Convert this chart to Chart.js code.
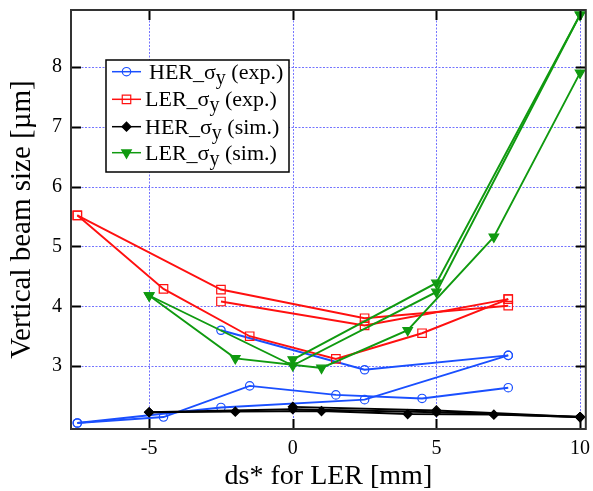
<!DOCTYPE html>
<html>
<head>
<meta charset="utf-8">
<script src="https://cdn.jsdelivr.net/npm/chart.js@4.4.1/dist/chart.umd.min.js"></script>
<style>
  html, body { margin: 0; padding: 0; background: #fff; }
  #wrap { width: 593px; height: 491px; position: relative; }
</style>
</head>
<body>
<div id="wrap"><canvas id="beamChart"></canvas></div>
<script>
// HER sigma_y measured (three scans)
const herExpX1 = [-7.5, -4.5, -1.5, 1.5, 4.5, 7.5];
const herExpY1 = [2.05, 2.15, 2.67, 2.52, 2.46, 2.64];
const herExpX2 = [-2.5, 2.5, 7.5];
const herExpY2 = [3.60, 2.94, 3.18];
const herExpX3 = [-7.5, -2.5, 2.5, 7.5];
const herExpY3 = [2.05, 2.31, 2.44, 3.18];

// LER sigma_y measured
const lerExpX1 = [-7.5, -4.5, -1.5, 1.5, 4.5, 7.5];
const lerExpY1 = [5.52, 4.29, 3.50, 3.12, 3.55, 4.12];
const lerExpX2 = [-7.5, -2.5, 2.5, 7.5];
const lerExpY2 = [5.52, 4.28, 3.80, 4.01];
const lerExpX3 = [-2.5, 2.5, 7.5];
const lerExpY3 = [4.08, 3.68, 4.12];

// HER sigma_y simulation
const herSimX1 = [-5, -2, 1, 4, 7, 10];
const herSimY1 = [2.23, 2.24, 2.25, 2.20, 2.19, 2.15];
const herSimX2 = [-5, 0, 5, 10];
const herSimY2 = [2.23, 2.28, 2.23, 2.15];
const herSimX3 = [0, 5, 10];
const herSimY3 = [2.32, 2.26, 2.15];

// LER sigma_y simulation
const lerSimX1 = [-5, -2, 1, 4, 7, 10];
const lerSimY1 = [4.18, 3.13, 2.97, 3.60, 5.16, 7.90];
const lerSimX2 = [-5, 0, 5, 10];
const lerSimY2 = [4.18, 3.01, 4.24, 8.87];
const lerSimX3 = [0, 5, 10];
const lerSimY3 = [3.11, 4.39, 8.87];

const xTicks = [-5, 0, 5, 10];
const yTicks = [3, 4, 5, 6, 7, 8];

const legendNames = ['HER', 'LER', 'HER', 'LER'];
const legendKinds = ['(exp.)', '(exp.)', '(sim.)', '(sim.)'];

const BLUE = '#1a4fff';
const RED = '#ff1010';
const BLACK = '#000000';
const GREEN = '#109a10';

function pts(xs, ys) {
    return xs.map((x, i) => ({ x: x, y: ys[i] }));
}

const styles = [
    { color: BLUE, pointStyle: 'circle', radius: 4.2, fill: 'rgba(0,0,0,0)', rotation: 0, order: 3 },
    { color: RED, pointStyle: 'rect', radius: 6, fill: 'rgba(0,0,0,0)', rotation: 0, order: 2 },
    { color: BLACK, pointStyle: 'rectRot', radius: 4.5, fill: BLACK, rotation: 0, order: 1 },
    { color: GREEN, pointStyle: 'triangle', radius: 5.5, fill: GREEN, rotation: 180, order: 0 }
];

function makeSet(xs, ys, s) {
    return {
        data: pts(xs, ys),
        showLine: true,
        borderColor: s.color,
        borderWidth: 1.9,
        backgroundColor: s.fill,
        pointBorderColor: s.color,
        pointBackgroundColor: s.fill,
        pointStyle: s.pointStyle,
        pointRadius: s.radius,
        pointBorderWidth: 1.2,
        pointRotation: s.rotation,
        order: s.order
    };
}

const datasets = [
    makeSet(herExpX1, herExpY1, styles[0]),
    makeSet(herExpX2, herExpY2, styles[0]),
    makeSet(herExpX3, herExpY3, styles[0]),
    makeSet(lerExpX1, lerExpY1, styles[1]),
    makeSet(lerExpX2, lerExpY2, styles[1]),
    makeSet(lerExpX3, lerExpY3, styles[1]),
    makeSet(herSimX1, herSimY1, styles[2]),
    makeSet(herSimX2, herSimY2, styles[2]),
    makeSet(herSimX3, herSimY3, styles[2]),
    makeSet(lerSimX1, lerSimY1, styles[3]),
    makeSet(lerSimX2, lerSimY2, styles[3]),
    makeSet(lerSimX3, lerSimY3, styles[3])
];

// dotted blue grid under the data
const gridPlugin = {
    id: 'dotGrid',
    beforeDatasetsDraw(chart) {
        const ctx = chart.ctx;
        const a = chart.chartArea;
        const xs = chart.scales.x, ys = chart.scales.y;
        ctx.save();
        ctx.strokeStyle = '#7474ff';
        ctx.lineWidth = 1;
        ctx.setLineDash([2, 1.5]);
        ctx.beginPath();
        xTicks.forEach(v => {
            const px = Math.round(xs.getPixelForValue(v)) + 0.5;
            ctx.moveTo(px, a.top); ctx.lineTo(px, a.bottom);
        });
        yTicks.forEach(v => {
            const py = Math.round(ys.getPixelForValue(v)) + 0.5;
            ctx.moveTo(a.left, py); ctx.lineTo(a.right, py);
        });
        ctx.stroke();
        ctx.restore();
    }
};

// frame, inward tick marks and the boxed legend inside the plot
const framePlugin = {
    id: 'frame',
    afterDraw(chart) {
        const ctx = chart.ctx;
        const a = chart.chartArea;
        const xs = chart.scales.x, ys = chart.scales.y;
        ctx.save();
        ctx.strokeStyle = '#000';
        ctx.lineWidth = 2;
        ctx.beginPath();
        xTicks.forEach(v => {
            const px = Math.round(xs.getPixelForValue(v)) + 0.5;
            ctx.moveTo(px, a.bottom); ctx.lineTo(px, a.bottom - 10);
            ctx.moveTo(px, a.top); ctx.lineTo(px, a.top + 10);
        });
        yTicks.forEach(v => {
            const py = Math.round(ys.getPixelForValue(v)) + 0.5;
            ctx.moveTo(a.left, py); ctx.lineTo(a.left + 10, py);
            ctx.moveTo(a.right, py); ctx.lineTo(a.right - 10, py);
        });
        ctx.stroke();
        ctx.strokeStyle = '#333';
        ctx.lineWidth = 2;
        ctx.strokeRect(a.left, a.top, a.right - a.left, a.bottom - a.top);

        // legend box
        const bx = 106, by = 60, bw = 183, bh = 112;
        ctx.fillStyle = '#fff';
        ctx.fillRect(bx, by, bw, bh);
        ctx.strokeStyle = '#000';
        ctx.lineWidth = 1.5;
        ctx.strokeRect(bx, by, bw, bh);
        const rows = [71.7, 99.3, 126.7, 152.7];
        rows.forEach((ry, i) => {
            const s = styles[i];
            ctx.strokeStyle = s.color;
            ctx.lineWidth = 1.5;
            ctx.beginPath();
            ctx.moveTo(112, ry); ctx.lineTo(141, ry);
            ctx.stroke();
            ctx.fillStyle = s.fill;
            ctx.strokeStyle = s.color;
            ctx.lineWidth = 1.2;
            Chart.helpers.drawPoint(ctx, {
                pointStyle: s.pointStyle,
                rotation: s.rotation,
                radius: s.radius,
                borderWidth: 1.2
            }, 126.5, ry);

            let tx = i === 0 ? 149 : 145;
            ctx.fillStyle = '#000';
            ctx.textBaseline = 'alphabetic';
            ctx.textAlign = 'left';
            ctx.font = '22px "Liberation Serif", "Times New Roman", serif';
            const base = ry + 7;
            const main = legendNames[i] + '_\u03c3';
            ctx.fillText(main, tx, base);
            tx += ctx.measureText(main).width;
            ctx.font = '20px "Liberation Serif", "Times New Roman", serif';
            ctx.fillText('y', tx, base + 5);
            tx += ctx.measureText('y').width;
            ctx.font = '22px "Liberation Serif", "Times New Roman", serif';
            ctx.fillText(' ' + legendKinds[i], tx, base);
        });
        ctx.restore();
    }
};

const serif = '"Liberation Serif", "Times New Roman", serif';

new Chart(document.getElementById('beamChart'), {
    type: 'scatter',
    data: { datasets: datasets },
    options: {
        responsive: true,
        maintainAspectRatio: false,
        animation: false,
        layout: { padding: { top: 10, right: 6, left: 0, bottom: 0 } },
        plugins: {
            legend: { display: false },
            tooltip: { enabled: false }
        },
        scales: {
            x: {
                type: 'linear',
                min: -7.72,
                max: 10.2,
                afterBuildTicks: scale => { scale.ticks = xTicks.map(v => ({ value: v })); },
                afterFit: scale => {
                    scale.height = 62;
                    scale.paddingLeft = 0;
                    scale.paddingRight = 0;
                },
                grid: { display: false, drawTicks: false },
                border: { display: false },
                ticks: {
                    color: '#000',
                    padding: 8,
                    maxRotation: 0,
                    autoSkip: false,
                    font: { family: serif, size: 20 },
                    callback: v => String(v)
                },
                title: {
                    display: true,
                    text: 'ds* for LER [mm]',
                    color: '#000',
                    font: { family: serif, size: 28, lineHeight: 1 },
                    padding: { top: 0, bottom: 0 }
                }
            },
            y: {
                type: 'linear',
                min: 1.95,
                max: 8.95,
                afterBuildTicks: scale => { scale.ticks = yTicks.map(v => ({ value: v })); },
                afterFit: scale => {
                    scale.width = 71;
                    scale.paddingTop = 0;
                    scale.paddingBottom = 0;
                },
                grid: { display: false, drawTicks: false },
                border: { display: false },
                ticks: {
                    color: '#000',
                    padding: 9,
                    font: { family: serif, size: 20 },
                    callback: v => String(v)
                },
                title: {
                    display: true,
                    text: 'Vertical beam size [\u00b5m]',
                    color: '#000',
                    font: { family: serif, size: 29, lineHeight: 1 },
                    padding: { top: 8, bottom: 0 }
                }
            }
        }
    },
    plugins: [gridPlugin, framePlugin]
});
</script>
</body>
</html>
